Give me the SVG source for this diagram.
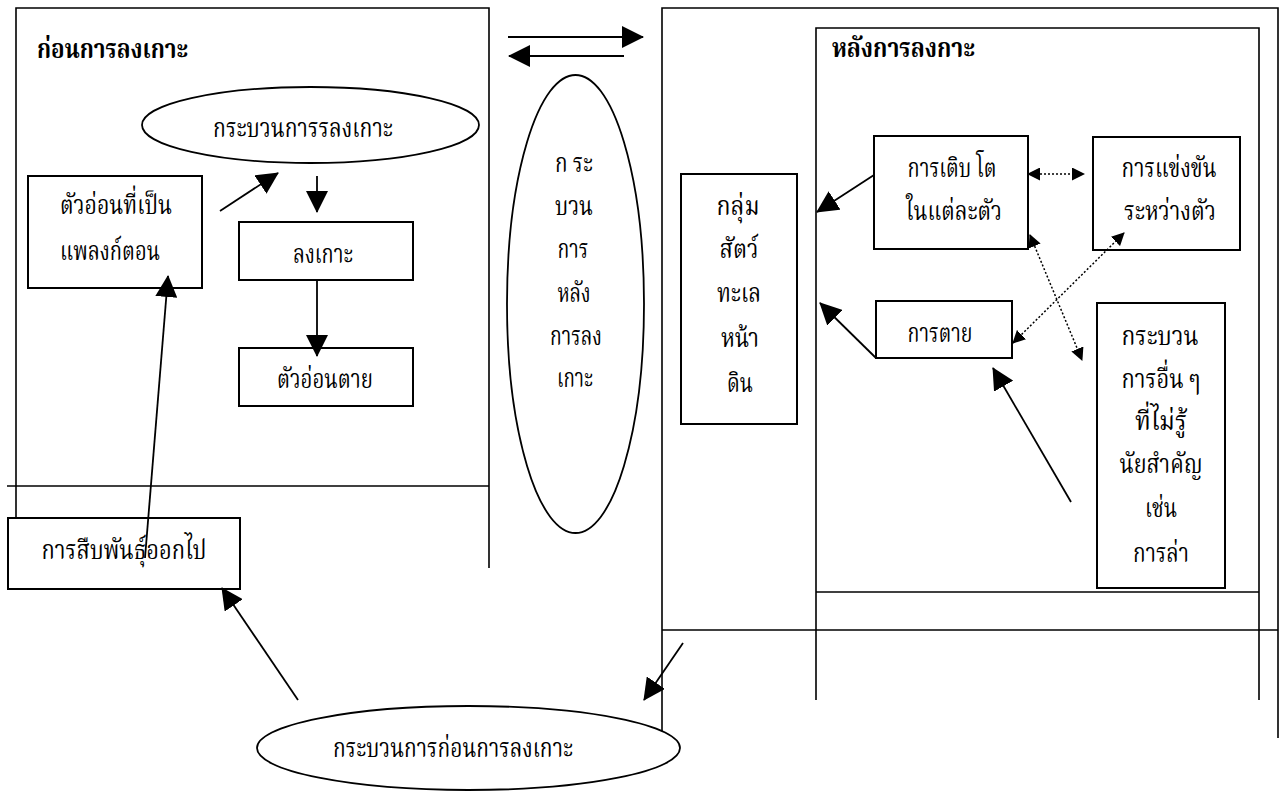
<svg xmlns="http://www.w3.org/2000/svg" width="1286" height="792" viewBox="0 0 1286 792">
<style>
.ln{stroke:#000;stroke-width:1.6;fill:none}
.bx{stroke:#000;stroke-width:2;fill:#fff}
.el{stroke:#000;stroke-width:1.8;fill:#fff}
.ar{stroke:#000;stroke-width:1.8;fill:none;marker-end:url(#ah)}
.dt{stroke:#000;stroke-width:1.5;fill:none;stroke-dasharray:2,2;marker-start:url(#sh);marker-end:url(#sh)}
text{font-family:"Liberation Serif","Noto Serif Thai","Noto Sans Thai",serif;font-size:27px;fill:#000;text-anchor:middle}
.tt{font-weight:bold;text-anchor:start}
</style>
<defs>
<marker id="ah" viewBox="0 0 22 22" refX="21" refY="11" markerWidth="22" markerHeight="22" markerUnits="userSpaceOnUse" orient="auto"><path d="M0,0 L22,11 L0,22 z" fill="#000"/></marker>
<marker id="sh" viewBox="0 0 13 13" refX="12" refY="6.5" markerWidth="13" markerHeight="13" markerUnits="userSpaceOnUse" orient="auto-start-reverse"><path d="M0,0 L13,6.5 L0,13 z" fill="#000"/></marker>
</defs>
<rect width="1286" height="792" fill="#fff"/>

<g id="frames">
<path class="ln" d="M16,518 V8 H489 V568"/>
<path class="ln" d="M7,486 H489"/>
<path class="ln" d="M662,731 V8 H1278 V738"/>
<path class="ln" d="M816,700 V28 H1259 V700"/>
<path class="ln" d="M816,592 H1259"/>
<path class="ln" d="M662,630 H1278"/>
</g>

<g id="title-before"><text class="tt" x="37" y="58" textLength="151" lengthAdjust="spacingAndGlyphs">ก่อนการลงเกาะ</text></g>
<g id="title-after"><text class="tt" x="832" y="57" textLength="143" lengthAdjust="spacingAndGlyphs">หลังการลงกาะ</text></g>

<g id="ell-landing"><ellipse class="el" cx="310.5" cy="125" rx="168.5" ry="38"/><text x="303" y="137" textLength="180" lengthAdjust="spacingAndGlyphs">กระบวนการรลงเกาะ</text></g>

<g id="plankton"><rect class="bx" x="28" y="176" width="174" height="112"/>
<text x="116" y="214" textLength="112" lengthAdjust="spacingAndGlyphs">ตัวอ่อนที่เป็น</text>
<text x="110" y="260" textLength="100" lengthAdjust="spacingAndGlyphs">แพลงก์ตอน</text></g>

<g id="settle"><rect class="bx" x="239" y="222" width="174" height="58"/><text x="323" y="263" textLength="60" lengthAdjust="spacingAndGlyphs">ลงเกาะ</text></g>
<g id="larva-dead"><rect class="bx" x="239" y="348" width="174" height="58"/><text x="325" y="388" textLength="96" lengthAdjust="spacingAndGlyphs">ตัวอ่อนตาย</text></g>

<g id="reproduce"><rect class="bx" x="8" y="518" width="232" height="71"/><text x="124" y="559" textLength="165" lengthAdjust="spacingAndGlyphs">การสืบพันธุ์ออกไป</text></g>

<g id="ell-post"><ellipse class="el" cx="575.5" cy="304" rx="68.5" ry="229"/>
<text x="574" y="172" textLength="38" lengthAdjust="spacingAndGlyphs">ก ระ</text>
<text x="574" y="215" textLength="38" lengthAdjust="spacingAndGlyphs">บวน</text>
<text x="573" y="258" textLength="31" lengthAdjust="spacingAndGlyphs">การ</text>
<text x="574" y="302" textLength="33" lengthAdjust="spacingAndGlyphs">หลัง</text>
<text x="576" y="345" textLength="52" lengthAdjust="spacingAndGlyphs">การลง</text>
<text x="575" y="387" textLength="36" lengthAdjust="spacingAndGlyphs">เกาะ</text></g>

<g id="ell-pre"><ellipse class="el" cx="468.5" cy="748" rx="211.5" ry="42"/><text x="453" y="757" textLength="240" lengthAdjust="spacingAndGlyphs">กระบวนการก่อนการลงเกาะ</text></g>

<g id="benthic"><rect class="bx" x="681" y="174" width="116" height="250"/>
<text x="738" y="215" textLength="43" lengthAdjust="spacingAndGlyphs">กลุ่ม</text>
<text x="739" y="258" textLength="39" lengthAdjust="spacingAndGlyphs">สัตว์</text>
<text x="739" y="302" textLength="44" lengthAdjust="spacingAndGlyphs">ทะเล</text>
<text x="740" y="347" textLength="38" lengthAdjust="spacingAndGlyphs">หน้า</text>
<text x="740" y="392" textLength="26" lengthAdjust="spacingAndGlyphs">ดิน</text></g>

<g id="growth"><rect class="bx" x="874" y="136" width="154" height="113"/>
<text x="952" y="177" textLength="89" lengthAdjust="spacingAndGlyphs">การเติบ โต</text>
<text x="954" y="220" textLength="96" lengthAdjust="spacingAndGlyphs">ในแต่ละตัว</text></g>

<g id="compete"><rect class="bx" x="1093" y="137" width="147" height="113"/>
<text x="1169" y="177" textLength="95" lengthAdjust="spacingAndGlyphs">การแข่งขัน</text>
<text x="1170" y="220" textLength="92" lengthAdjust="spacingAndGlyphs">ระหว่างตัว</text></g>

<g id="death"><rect class="bx" x="876" y="301" width="136" height="57"/><text x="940" y="342" textLength="65" lengthAdjust="spacingAndGlyphs">การตาย</text></g>

<g id="other"><rect class="bx" x="1097" y="303" width="128" height="285"/>
<text x="1160" y="345" textLength="77" lengthAdjust="spacingAndGlyphs">กระบวน</text>
<text x="1161" y="388" textLength="79" lengthAdjust="spacingAndGlyphs">การอื่น ๆ</text>
<text x="1161" y="430" textLength="52" lengthAdjust="spacingAndGlyphs">ที่ไม่รู้</text>
<text x="1161" y="473" textLength="83" lengthAdjust="spacingAndGlyphs">นัยสำคัญ</text>
<text x="1161" y="517" textLength="32" lengthAdjust="spacingAndGlyphs">เช่น</text>
<text x="1161" y="562" textLength="56" lengthAdjust="spacingAndGlyphs">การล่า</text></g>

<g id="connectors">
<line class="ar" x1="508" y1="37" x2="643" y2="37"/>
<line class="ar" x1="624" y1="56" x2="509" y2="56"/>
<line class="ar" x1="220" y1="211" x2="278" y2="173"/>
<line class="ar" x1="317" y1="176" x2="317" y2="212"/>
<line class="ar" x1="317" y1="280" x2="317" y2="356"/>
<line class="ar" x1="145" y1="558" x2="168" y2="276"/>
<line class="ar" x1="298" y1="700" x2="222" y2="588"/>
<line class="ar" x1="683" y1="643" x2="644" y2="700"/>
<line class="ar" x1="874" y1="175" x2="817" y2="212"/>
<line class="ar" x1="876" y1="358" x2="820" y2="303"/>
<line class="ar" x1="1071" y1="502" x2="993" y2="368"/>
<line class="dt" x1="1028" y1="174" x2="1084" y2="174"/>
<line class="dt" x1="1030" y1="235" x2="1082" y2="360"/>
<line class="dt" x1="1013" y1="343" x2="1124" y2="233"/>
</g>
</svg>
